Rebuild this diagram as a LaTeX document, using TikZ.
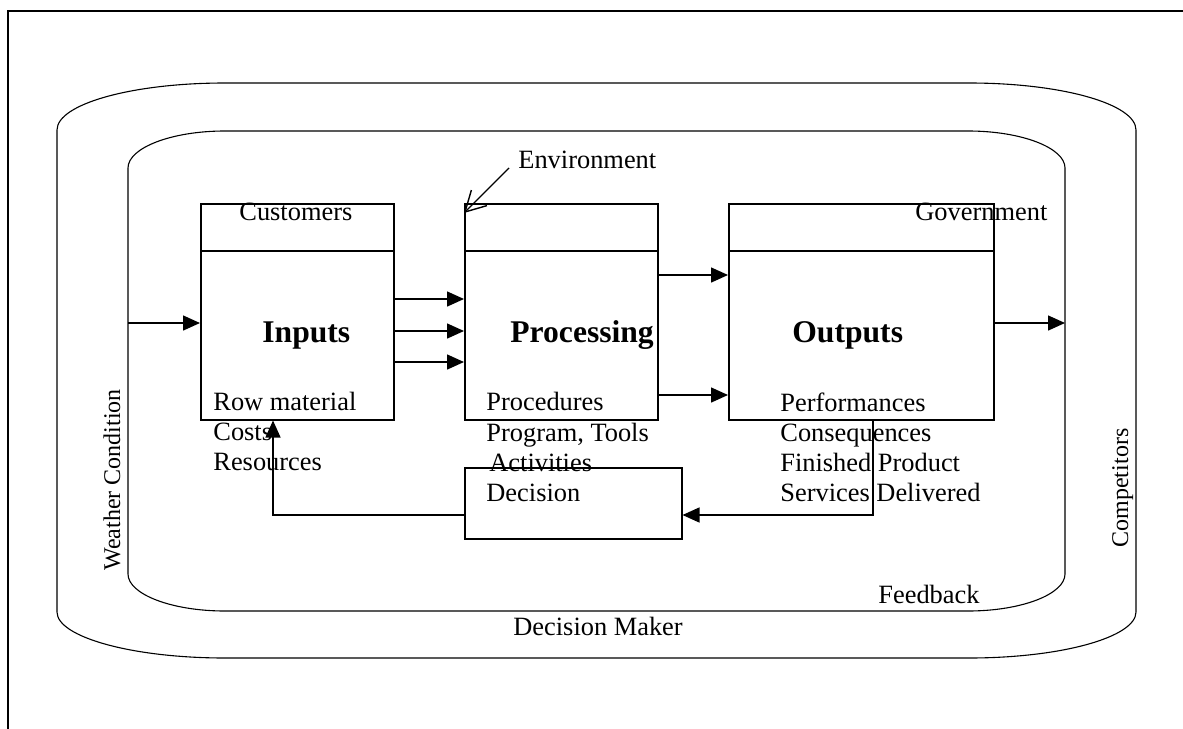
\documentclass[tikz,border=0pt]{standalone}
\usepackage{fontspec}
\setmainfont{Liberation Serif}
\usetikzlibrary{arrows.meta}

\begin{document}
\begin{tikzpicture}[x=0.5pt,y=-0.5pt,
  box/.style={draw, line width=0.75pt, rectangle, inner sep=0pt, anchor=north west},
  arr/.style={line width=0.75pt, -{Triangle[length=8.5pt,width=7.5pt]}},
  lbl/.style={anchor=base west, inner sep=0pt, font=\fontsize{13.2}{15}\selectfont},
  head/.style={anchor=base west, inner sep=0pt, font=\fontsize{15.8}{18}\selectfont\bfseries},
  side/.style={anchor=base, rotate=90, inner sep=0pt, font=\fontsize{12}{14}\selectfont},
  ring/.style={line width=0.55pt}]

\useasboundingbox (0,0) rectangle (1183,728);
\clip (0,0) rectangle (1183,728);

% page frame (right and bottom edges fall outside the page)
\draw[line width=0.8pt] (8,780) -- (8,11) -- (1240,11);

% outer environment ring
\draw[ring] (57,130) -- (57,612)
  .. controls (57,637) and (132,658) .. (225,658) -- (969,658)
  .. controls (1062,658) and (1136,637) .. (1136,612) -- (1136,130)
  .. controls (1136,104) and (1062,83) .. (969,83) -- (225,83)
  .. controls (132,83) and (57,104) .. (57,130) -- cycle;

% inner environment ring
\draw[ring] (128,168) -- (128,574)
  .. controls (128,594) and (171,611) .. (225,611) -- (968,611)
  .. controls (1022,611) and (1065,594) .. (1065,574) -- (1065,168)
  .. controls (1065,148) and (1022,131) .. (968,131) -- (225,131)
  .. controls (171,131) and (128,148) .. (128,168) -- cycle;

% main blocks
\node[box, minimum width=96.5pt, minimum height=108pt] (inp) at (200,203) {};
\node[box, minimum width=96.5pt, minimum height=108pt] (proc) at (464,203) {};
\node[box, minimum width=132.5pt, minimum height=108pt] (out) at (728,203) {};
\node[box, minimum width=108.5pt, minimum height=35.5pt] (dec) at (464,467) {};

% header dividers
\foreach \b in {inp,proc,out}
  \draw[line width=0.75pt] ([yshift=-24pt]\b.north west) -- ([yshift=-24pt]\b.north east);

% texts
\node[lbl] (cust) at (239,220) {Customers};
\node[lbl] (gov) at (915,220) {Government};
\node[lbl] (envlbl) at (518,168) {Environment};

\node[head] (tinp) at (262,342) {Inputs};
\node[head] (tproc) at (510,342) {Processing};
\node[head] (tout) at (792,342) {Outputs};

\node[lbl] (i1) at (213,410) {Row material};
\node[lbl] (i2) at (213,440) {Costs};
\node[lbl] (i3) at (213,470) {Resources};

\node[lbl] (p1) at (486,410) {Procedures};
\node[lbl] (p2) at (486,441) {Program, Tools};
\node[lbl] (p3) at (489,471) {Activities};
\node[lbl] (p4) at (486,501) {Decision};

\node[lbl] (o1) at (780,411) {Performances};
\node[lbl] (o2) at (780,441) {Consequences};
\node[lbl] (o3) at (780,471) {Finished Product};
\node[lbl] (o4) at (780,501) {Services Delivered};

\node[lbl] (fb) at (878,603) {Feedback};
\node[lbl] (dm) at (513,635) {Decision Maker};

\node[side] (wc) at (120,480) {Weather Condition};
\node[side] (comp) at (1128,488) {Competitors};

% flows
\coordinate (ringL) at (128,323);
\coordinate (ringR) at (1065,323);
\draw[arr] (ringL) -- (inp.west |- ringL);
\draw[arr] (out.east |- ringR) -- (ringR);

\foreach \yy in {299,331,362} {
  \coordinate (t) at (0,\yy);
  \draw[arr] (inp.east |- t) -- (proc.west |- t);
}
\foreach \yy in {275,395} {
  \coordinate (t) at (0,\yy);
  \draw[arr] (proc.east |- t) -- (out.west |- t);
}

% feedback loop
\coordinate (fby) at (0,515);
\draw[arr] ([xshift=72.5pt]out.south west) |- (dec.east |- fby);
\draw[arr] (dec.west |- fby) -| ([xshift=36.5pt]inp.south west);

% environment pointer
\draw[line width=0.7pt, -{Straight Barb[length=10pt,width=11pt]}]
  ([xshift=-4.5pt]envlbl.base west) -- ([yshift=-5pt]proc.north west);

\end{tikzpicture}
\end{document}
